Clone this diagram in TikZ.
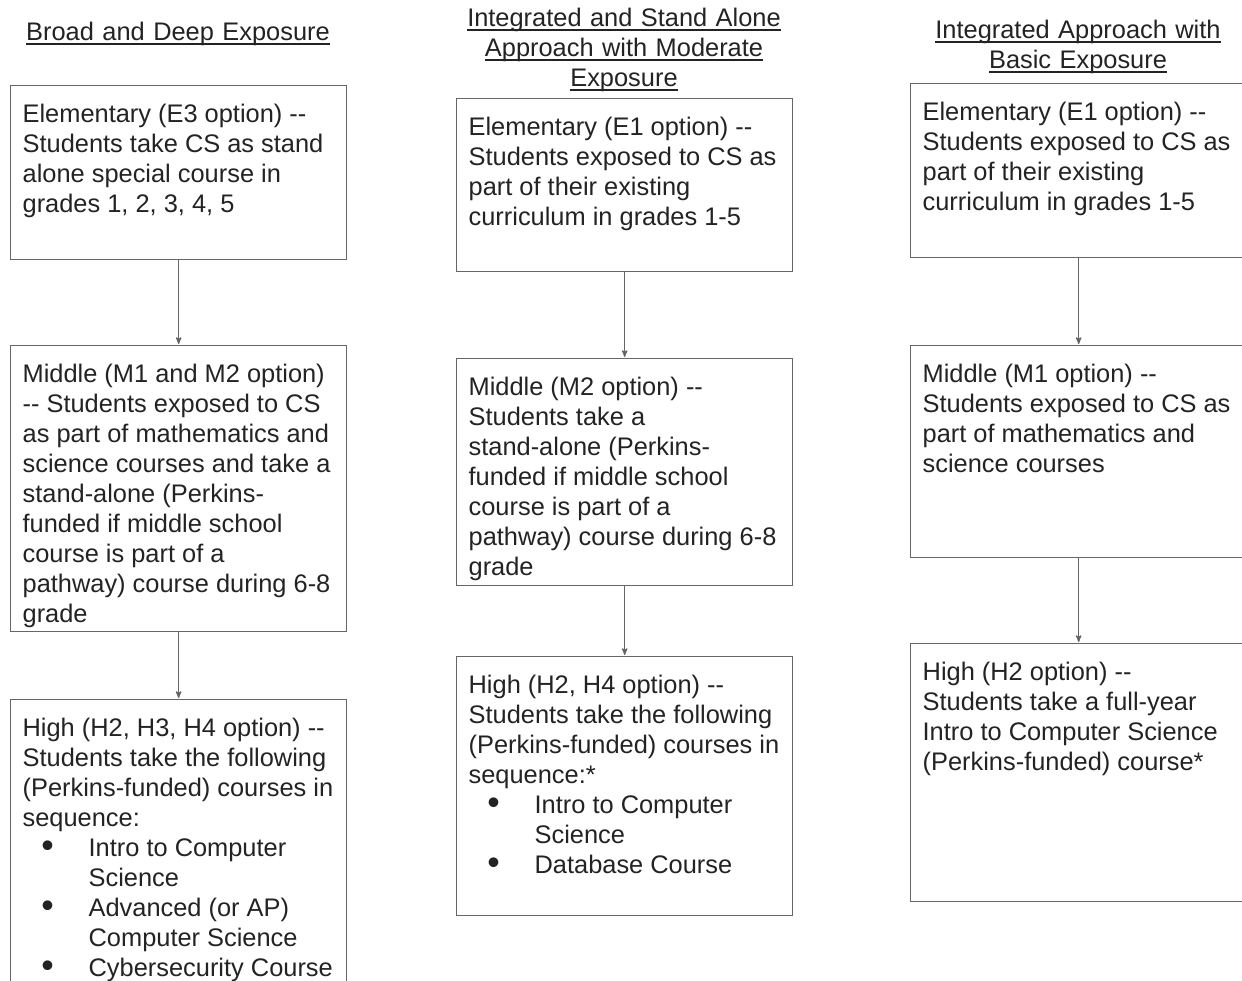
\documentclass[tikz,border=0pt]{standalone}
\usepackage{fontspec}
\setmainfont{Liberation Sans}
\usepackage{tikz}
\usetikzlibrary{arrows}

\definecolor{boxgray}{HTML}{666666}
\definecolor{inkgray}{HTML}{232323}
\newcommand{\twodash}{-\kern0pt-}
\newcommand{\itm}{\hspace*{15pt}\makebox[20pt]{\raisebox{-1pt}{\scalebox{1.4}{\textbullet}}}\hspace*{31pt}}
\newcommand{\cnt}{\hspace*{66pt}}
\newcommand{\undl}[1]{\leavevmode\setbox0=\hbox{#1}\rlap{\rule[-4.5pt]{\wd0}{1.5pt}}\box0}
\newcommand{\stagetext}[2]{\parbox[t][#1][t]{336pt}{\raggedright\leftskip=12pt\rule{0pt}{37pt}#2}}

\begin{document}
\begin{tikzpicture}[x=1pt,y=-1pt,->,>=stealth',shorten >=1pt,line width=1.3pt,
		stage/.style={draw=boxgray,anchor=north west,inner sep=0pt,text=inkgray,font=\fontsize{25.4}{30}\selectfont},
		head/.style={anchor=base,inner sep=0pt,text width=420pt,align=center,text=inkgray,font=\fontsize{25.4}{30}\selectfont}]

	\useasboundingbox (0,0) rectangle (1242,980);

	\node[head] (t1) at (178,40) {\undl{Broad and Deep Exposure}};
	\node[head] (t2) at (624,26) {\undl{Integrated and Stand Alone}\\ \undl{Approach with Moderate}\\ \undl{Exposure}};
	\node[head] (t3) at (1078,38) {\undl{Integrated Approach with}\\ \undl{Basic Exposure}};

	\node[stage] (1) at (10,85) {\stagetext{174pt}{Elementary (E3 option) \twodash\\ Students take CS as stand\\ alone special course in\\ grades 1, 2, 3, 4, 5}};
	\node[stage] (2) at (10,345) {\stagetext{286pt}{Middle (M1 and M2 option)\\ \twodash{} Students exposed to CS\\ as part of mathematics and\\ science courses and take a\\ stand-alone (Perkins-\\ funded if middle school\\ course is part of a\\ pathway) course during 6-8\\ grade}};
	\node[stage] (3) at (10,699) {\stagetext{300pt}{High (H2, H3, H4 option) \twodash\\ Students take the following\\ (Perkins-funded) courses in\\ sequence:\\ \itm Intro to Computer\\ \cnt Science\\ \itm Advanced (or AP)\\ \cnt Computer Science\\ \itm Cybersecurity Course}};

	\node[stage] (4) at (456,98) {\stagetext{173pt}{Elementary (E1 option) \twodash\\ Students exposed to CS as\\ part of their existing\\ curriculum in grades 1-5}};
	\node[stage] (5) at (456,358) {\stagetext{227pt}{Middle (M2 option) \twodash\\ Students take a\\ stand-alone (Perkins-\\ funded if middle school\\ course is part of a\\ pathway) course during 6-8\\ grade}};
	\node[stage] (6) at (456,656) {\stagetext{259pt}{High (H2, H4 option) \twodash\\ Students take the following\\ (Perkins-funded) courses in\\ sequence:*\\ \itm Intro to Computer\\ \cnt Science\\ \itm Database Course}};

	\node[stage] (7) at (910,83) {\stagetext{174pt}{Elementary (E1 option) \twodash\\ Students exposed to CS as\\ part of their existing\\ curriculum in grades 1-5}};
	\node[stage] (8) at (910,345) {\stagetext{212pt}{Middle (M1 option) \twodash\\ Students exposed to CS as\\ part of mathematics and\\ science courses}};
	\node[stage] (9) at (910,643) {\stagetext{258pt}{High (H2 option) \twodash\\ Students take a full-year\\ Intro to Computer Science\\ (Perkins-funded) course*}};

	\path[draw=boxgray]
	(1) edge (2)
	(2) edge (3)
	(4) edge (5)
	(5) edge (6)
	(7) edge (8)
	(8) edge (9);

\end{tikzpicture}
\end{document}
